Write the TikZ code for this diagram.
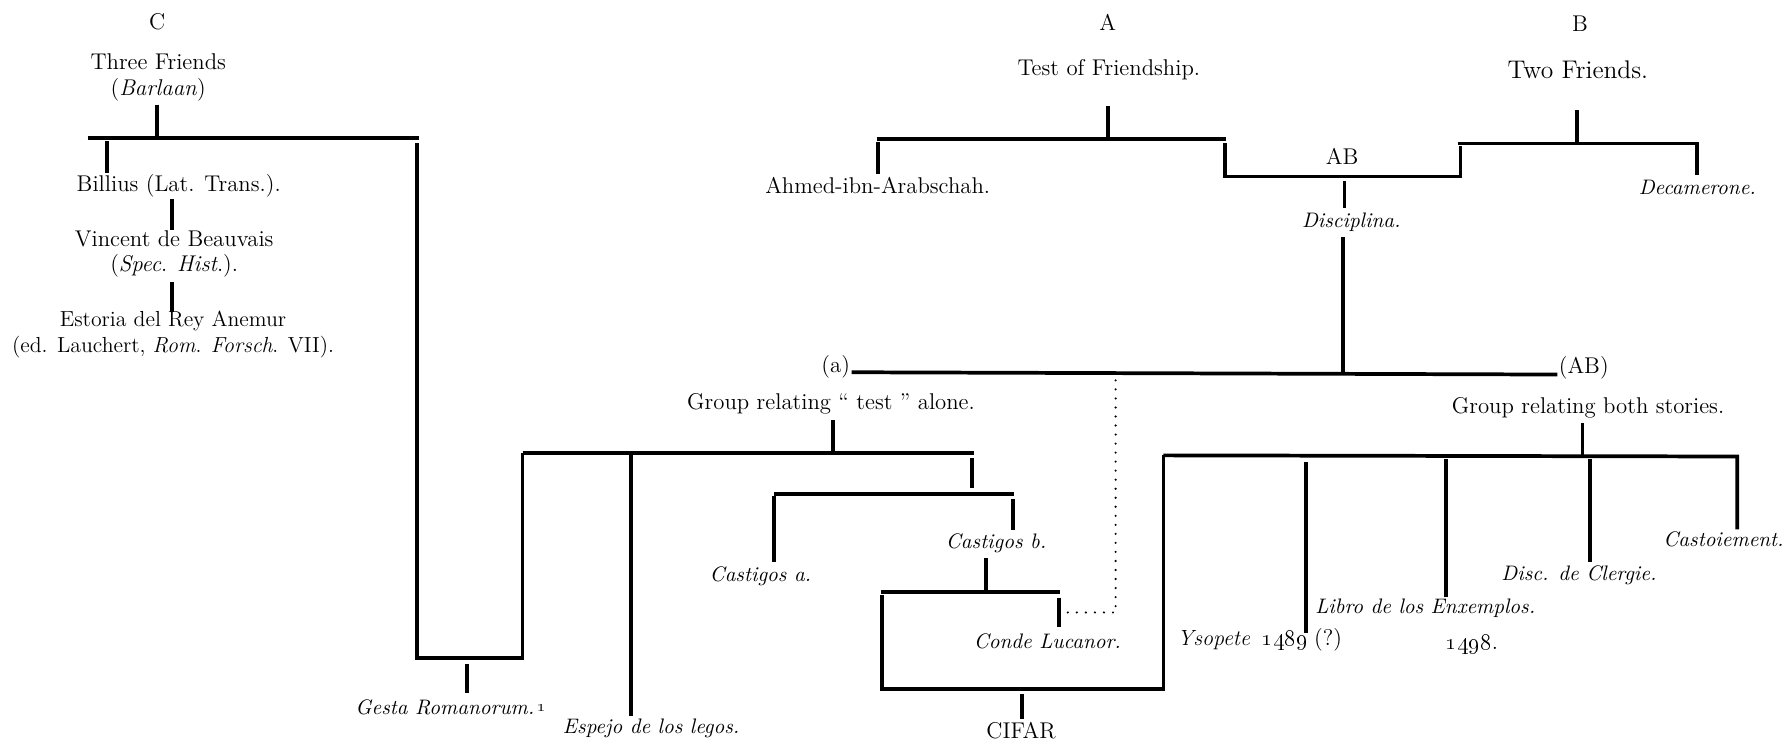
\documentclass[tikz,border=0pt]{standalone}
\begin{document}
\begin{tikzpicture}[x=0.58pt,y=-0.58pt,
  br/.style={line width=1.9pt},
  lbl/.style={inner sep=0pt, font=\fontsize{11.6}{13}\selectfont, align=center},
  ilbl/.style={inner sep=0pt, font=\fontsize{10.7}{12.5}\selectfont\itshape, align=center},
  dotline/.style={line width=1.2pt, dash pattern=on 0pt off 4.6pt, line cap=round}]
\useasboundingbox (0,0) rectangle (1568,652);
% ---------- C tree ----------
\node[lbl] (C) at (138,19) {C};
\node[lbl] (three) at (139,68) {Three Friends\\(\textit{Barlaan})};
\node[lbl] (billius) at (157,163) {Billius (Lat. Trans.).};
\node[lbl] (vincent) at (153,223) {Vincent de Beauvais\\(\textit{Spec}. \textit{Hist}.).};
\node[lbl,font=\fontsize{11.1}{13}\selectfont] (estoria) at (152,294) {Estoria del Rey Anemur\\(ed. Lauchert, \textit{Rom}. \textit{Forsch}. VII).};
\coordinate (c1) at (138,92); \coordinate (c2) at (138,121);
\coordinate (cL) at (77,121); \coordinate (cR) at (368,121);
\coordinate (b1) at (94,124); \coordinate (b2) at (94,152);
\coordinate (v1) at (151,175); \coordinate (v2) at (151,202);
\coordinate (e1) at (151,248); \coordinate (e2) at (151,274);
\coordinate (g1) at (366,126); \coordinate (g2) at (366,578);
\coordinate (g3) at (459,578); \coordinate (g4) at (459,398);
\coordinate (gs1) at (410,583); \coordinate (gs2) at (410,609);
\draw[br] (c1) -- (c2);
\draw[br] (cL) -- (cR);
\draw[br] (b1) -- (b2);
\draw[br] (v1) -- (v2);
\draw[br] (e1) -- (e2);
\draw[br] (g1) -- (g2) -- (g3) -- (g4);
\draw[br] (gs1) -- (gs2);
\node[ilbl] (gesta) at (396,621) {Gesta Romanorum.\,\raisebox{0.3ex}{\upshape\footnotesize\oldstylenums{1}}};
% ---------- A tree ----------
\node[lbl] (A) at (973,20) {A};
\node[lbl] (test) at (974,61) {Test of Friendship.};
\node[lbl] (ahmed) at (771,163) {Ahmed-ibn-Arabschah.};
\node[lbl] (AB) at (1179,137) {AB};
\node[ilbl] (disc) at (1187,195) {Disciplina.};
\coordinate (a1) at (973,93); \coordinate (a2) at (973,122);
\coordinate (aL) at (770,122); \coordinate (aR) at (1077,122);
\coordinate (ah1) at (771,125); \coordinate (ah2) at (771,153);
\coordinate (ab1) at (1076,126); \coordinate (ab2) at (1076,155);
\coordinate (ab3) at (1283,155); \coordinate (ab4) at (1283,128);
\coordinate (d1) at (1181,159); \coordinate (d2) at (1181,183);
\coordinate (d3) at (1180,208); \coordinate (d4) at (1180,328);
\draw[br] (a1) -- (a2);
\draw[br] (aL) -- (aR);
\draw[br] (ah1) -- (ah2);
\draw[br] (ab1) -- (ab2) -- (ab3) -- (ab4);
\draw[br] (d1) -- (d2);
\draw[br] (d3) -- (d4);
% ---------- B tree ----------
\node[lbl] (B) at (1388,21) {B};
\node[lbl,font=\fontsize{13}{15}\selectfont] (two) at (1386,61) {Two Friends.};
\node[ilbl] (deca) at (1491,165) {Decamerone.};
\coordinate (bb1) at (1385,97); \coordinate (bb2) at (1385,126);
\coordinate (bL) at (1281,126); \coordinate (bR) at (1491,126);
\coordinate (bd2) at (1491,154);
\draw[br] (bb1) -- (bb2);
\draw[br] (bL) -- (bR) -- (bd2);
% ---------- (a) ---- (AB) ----------
\node[lbl,anchor=east] (pa) at (747,322) {(a)};
\node[lbl,anchor=west] (pAB) at (1369,323) {(AB)};
\coordinate (paL) at (748,327); \coordinate (paR) at (1368,329);
\draw[br] (paL) -- (paR);
% ---------- group relating test ----------
\node[lbl] (gtest) at (730,355) {Group relating `` test '' alone.};
\coordinate (t1) at (732,369); \coordinate (t2) at (732,398);
\coordinate (tR) at (856,398);
\coordinate (tt1) at (854,402); \coordinate (tt2) at (854,429);
\coordinate (sL) at (680,434); \coordinate (sR) at (891,434);
\coordinate (sa1) at (680,436); \coordinate (sa2) at (680,494);
\coordinate (sb1) at (890,438); \coordinate (sb2) at (890,466);
\coordinate (sp1) at (554,400); \coordinate (sp2) at (554,629);
\draw[br] (t1) -- (t2);
\draw[br] (g4) -- (tR);
\draw[br] (tt1) -- (tt2);
\draw[br] (sL) -- (sR);
\draw[br] (sa1) -- (sa2);
\draw[br] (sb1) -- (sb2);
\draw[br] (sp1) -- (sp2);
\node[ilbl] (espejo) at (572,640) {Espejo de los legos.};
\node[ilbl] (casta) at (668,506) {Castigos a.};
\node[ilbl] (castb) at (875,477) {Castigos b.};
\coordinate (cb1) at (866,490); \coordinate (cb2) at (866,518);
\coordinate (kL) at (774,520); \coordinate (kR) at (931,520);
\coordinate (kt1) at (930,525); \coordinate (kt2) at (930,551);
\coordinate (k1) at (775,523); \coordinate (k2) at (775,605);
\coordinate (k3) at (1022,605); \coordinate (k4) at (1022,400);
\coordinate (cf1) at (898,610); \coordinate (cf2) at (898,632);
\draw[br] (cb1) -- (cb2);
\draw[br] (kL) -- (kR);
\draw[br] (kt1) -- (kt2);
\draw[br] (k1) -- (k2) -- (k3) -- (k4);
\draw[br] (cf1) -- (cf2);
\node[ilbl] (conde) at (920,563) {Conde Lucanor.};
\node[lbl] (cifar) at (897,642) {CIFAR};
\coordinate (dt1) at (938,538); \coordinate (dt2) at (980,538); \coordinate (dt3) at (980,334);
\draw[dotline] (dt1) -- (dt2) -- (dt3);
% ---------- group relating both ----------
\node[lbl] (gboth) at (1395,358) {Group relating both stories.};
\coordinate (h1) at (1390,372); \coordinate (h2) at (1390,400);
\coordinate (hR) at (1526,401); \coordinate (hR2) at (1526,465);
\coordinate (y1) at (1147,406); \coordinate (y2) at (1147,556);
\coordinate (l1) at (1270,403); \coordinate (l2) at (1270,524);
\coordinate (q1) at (1397,403); \coordinate (q2) at (1397,494);
\draw[br] (h1) -- (h2);
\draw[br] (k4) -- (hR) -- (hR2);
\draw[br] (y1) -- (y2);
\draw[br] (l1) -- (l2);
\draw[br] (q1) -- (q2);
\node[lbl,anchor=base east] (ysop) at (1149,567) {\textit{\fontsize{11.2}{12.5}\selectfont Ysopete}\enspace\oldstylenums{1489}};
\node[lbl,anchor=base west] (ysq) at (1154,567) {(?)};
\node[ilbl] (libro) at (1252,534) {Libro de los Enxemplos.};
\node[lbl] (y1498) at (1293,566) {\oldstylenums{1498}.};
\node[ilbl] (clergie) at (1387,505) {Disc. de Clergie.};
\node[ilbl] (castoi) at (1514,474) {Castoiement.};
\end{tikzpicture}
\end{document}
